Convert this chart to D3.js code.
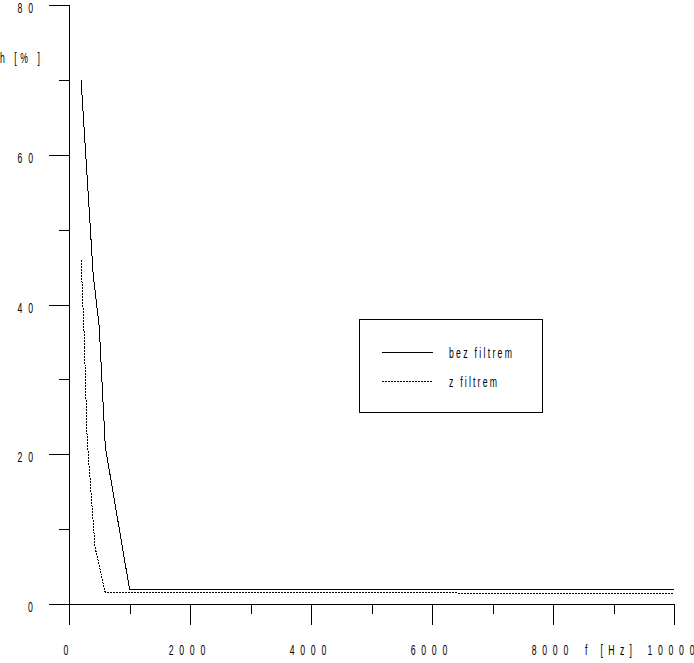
<!DOCTYPE html>
<html>
<head>
<meta charset="utf-8">
<script src="https://cdn.jsdelivr.net/npm/d3@7"></script>
<style>
  html, body { margin: 0; padding: 0; background: #fff; }
  svg { display: block; }
  text { font-family: "Liberation Sans", Arial, sans-serif; font-size: 15px; fill: #000; }
</style>
</head>
<body>
<script>
// ---- data ----
const freqBez = [200, 400, 500, 600, 1000, 2500, 10000];
const valsBez = [70, 44, 37, 21, 2.0, 1.9, 1.9];
const freqZ = [200, 250, 300, 430, 600, 10000];
const valsZ = [46, 36, 22, 7.6, 1.5, 1.45];
const seriesNames = ["bez filtrem", "z filtrem"];
const xMajorTicks = [0, 2000, 4000, 6000, 8000, 10000];
const xMinorTicks = [1000, 3000, 5000, 7000, 9000];
const yMajorTicks = [0, 20, 40, 60, 80];
const yMinorTicks = [10, 30, 50, 70];
const xTitle = "f [Hz]";
const yTitle = "h [% ]";

const W = 694, H = 663;
const svg = d3.select("body").append("svg").attr("width", W).attr("height", H);

const x = d3.scaleLinear().domain([0, 10000]).range([69, 674]);
const y = d3.scaleLinear().domain([0, 80]).range([604, 5]);

const SX = 0.58;
function label(left, base, str, width) {
  const g = svg.append("g").attr("transform", `translate(${left},${base}) scale(${SX},1)`);
  const t = g.append("text").attr("x", 0).attr("y", 0).text(str);
  if (str.length > 1) t.attr("textLength", width / SX).attr("lengthAdjust", "spacing");
  return t;
}

// ---- axes (ticks) ----
function styleAxis(g) {
  g.select(".domain").remove();
  g.selectAll("text").remove();
  g.selectAll("line").attr("stroke", "#000").attr("shape-rendering", "crispEdges");
}
svg.append("g").attr("transform", "translate(69,0)")
  .call(d3.axisLeft(y).tickValues(yMajorTicks).tickSize(20).tickFormat(""))
  .call(styleAxis);
svg.append("g").attr("transform", "translate(69,0)")
  .call(d3.axisLeft(y).tickValues(yMinorTicks).tickSize(10).tickFormat(""))
  .call(styleAxis);
svg.append("g").attr("transform", "translate(0,604)")
  .call(d3.axisBottom(x).tickValues(xMajorTicks).tickSize(21).tickFormat(""))
  .call(styleAxis);
svg.append("g").attr("transform", "translate(0,604)")
  .call(d3.axisBottom(x).tickValues(xMinorTicks).tickSize(10).tickFormat(""))
  .call(styleAxis);

// axis lines
svg.append("line").attr("x1", x(0) + 0.5).attr("x2", x(0) + 0.5)
  .attr("y1", y(80)).attr("y2", y(0) + 21)
  .attr("stroke", "#000").attr("shape-rendering", "crispEdges");
svg.append("line").attr("x1", x(0) - 20).attr("x2", x(10000) + 1)
  .attr("y1", y(0) + 0.5).attr("y2", y(0) + 0.5)
  .attr("stroke", "#000").attr("shape-rendering", "crispEdges");

// tick labels
yMajorTicks.forEach(v => {
  const s = String(v);
  const w = (s.length - 1) * 10.5 + 5;
  label(33 - w, y(v) + 8, s, w);
});
xMajorTicks.forEach(v => {
  const s = String(v);
  const w = (s.length - 1) * 10.5 + 5;
  label(x(v) - w / 2 - 3, 655, s, w);
});
label(585, 655, xTitle, 47);
label(0, 63, yTitle, 40);

// ---- series ----
const line = d3.line().x(d => x(d[0])).y(d => y(d[1]));
svg.append("path")
  .datum(freqBez.map((f, i) => [f, valsBez[i]]))
  .attr("d", line).attr("fill", "none").attr("stroke", "#000").attr("stroke-width", 1)
  .attr("shape-rendering", "crispEdges");
svg.append("path")
  .datum(freqZ.map((f, i) => [f, valsZ[i]]))
  .attr("d", line).attr("fill", "none").attr("stroke", "#000").attr("stroke-width", 1)
  .attr("stroke-dasharray", "2,1").attr("shape-rendering", "crispEdges");

// ---- legend ----
svg.append("rect").attr("x", 359.5).attr("y", 319.5).attr("width", 183).attr("height", 93)
  .attr("fill", "none").attr("stroke", "#000").attr("shape-rendering", "crispEdges");
svg.append("line").attr("x1", 382).attr("x2", 433).attr("y1", 352.5).attr("y2", 352.5)
  .attr("stroke", "#000").attr("shape-rendering", "crispEdges");
svg.append("line").attr("x1", 382).attr("x2", 433).attr("y1", 381.5).attr("y2", 381.5)
  .attr("stroke", "#000").attr("stroke-dasharray", "2,1").attr("shape-rendering", "crispEdges");
label(449, 358, seriesNames[0], 63);
label(449, 387, seriesNames[1], 48);
</script>
</body>
</html>
